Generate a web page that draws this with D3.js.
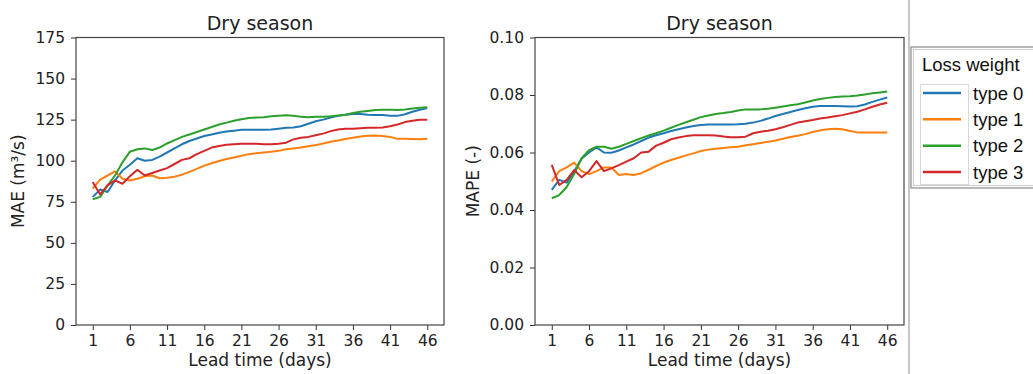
<!DOCTYPE html>
<html>
<head>
<meta charset="utf-8">
<script src="https://cdn.jsdelivr.net/npm/d3@7"></script>
<style>
  html, body { margin: 0; padding: 0; background: #fff; }
  svg { display: block; }
</style>
</head>
<body>
<svg id="chart" width="1033" height="374"></svg>
<script>
// ---------- data ----------
const days = d3.range(1, 47);
const seriesNames = ["type 0", "type 1", "type 2", "type 3"];
const seriesColors = ["#1f77b4", "#ff7f0e", "#2ca02c", "#d62728"];
const xTicks = [1, 6, 11, 16, 21, 26, 31, 36, 41, 46];
const maeTicks = [0, 25, 50, 75, 100, 125, 150, 175];
const mapeTicks = [0, 0.02, 0.04, 0.06, 0.08, 0.10];

const maeType0 = [78, 82.5, 81, 88, 94, 97.5, 101.5, 100, 100.5, 102.5, 105, 107.5, 110, 112, 113.5, 115, 116, 117, 117.8, 118.3, 118.8, 118.8, 118.8, 118.8, 119, 119.5, 120, 120.2, 121, 122.5, 124, 125, 126.3, 127.3, 128, 128.5, 128.5, 128, 127.8, 127.8, 127.3, 127.3, 128.3, 129.8, 131, 132];
const maeType1 = [83, 88.5, 91, 93.5, 89, 88, 89, 90.5, 91, 89.3, 89.7, 90.3, 91.5, 93.2, 95, 97, 98.5, 99.8, 101, 102, 103, 104, 104.5, 105, 105.5, 106, 107, 107.5, 108, 108.8, 109.5, 110.5, 111.5, 112.3, 113.2, 114, 114.8, 115.2, 115.3, 115, 114.5, 113.3, 113.3, 113.2, 113, 113.3];
const maeType2 = [76.5, 78, 85, 91, 99, 105.5, 107, 107.5, 106.5, 108, 110.5, 112.5, 114.5, 116, 117.5, 119, 120.5, 122, 123.2, 124.3, 125.3, 126, 126.3, 126.5, 127, 127.3, 127.7, 127.3, 126.7, 126.5, 126.7, 126.8, 127, 127.5, 128, 129, 129.8, 130.3, 130.8, 131, 131, 130.8, 131.2, 131.8, 132.2, 132.5];
const maeType3 = [87, 79.5, 85, 88, 86, 90.5, 94.5, 91, 92.5, 94, 95.5, 98, 100.5, 101.5, 104, 106, 108, 109, 109.7, 110, 110.3, 110.3, 110.3, 110, 110, 110.3, 111, 113, 114, 114.5, 115.5, 116.5, 118, 119, 119.5, 119.5, 119.8, 120, 120, 120.2, 121, 122, 123.5, 124.3, 125, 125];

const mapeType0 = [0.047, 0.0505, 0.0495, 0.0535, 0.0578, 0.0600, 0.0618, 0.0600, 0.0599, 0.0607, 0.0618, 0.0628, 0.0640, 0.0652, 0.0660, 0.0667, 0.0675, 0.0681, 0.0687, 0.0692, 0.0696, 0.0697, 0.0697, 0.0697, 0.0697, 0.0698, 0.0700, 0.0704, 0.0710, 0.0718, 0.0727, 0.0734, 0.0741, 0.0748, 0.0754, 0.0759, 0.0762, 0.0762, 0.0762, 0.0761, 0.0760, 0.0761, 0.0767, 0.0776, 0.0784, 0.0791];
const mapeType1 = [0.0499, 0.0535, 0.0548, 0.0565, 0.0535, 0.0525, 0.0535, 0.0548, 0.0548, 0.0522, 0.0525, 0.0522, 0.0528, 0.0540, 0.0553, 0.0565, 0.0574, 0.0582, 0.0590, 0.0597, 0.0605, 0.0610, 0.0613, 0.0616, 0.0618, 0.0620, 0.0625, 0.0629, 0.0633, 0.0637, 0.0642, 0.0648, 0.0654, 0.0658, 0.0664, 0.0671, 0.0677, 0.0681, 0.0683, 0.0681, 0.0675, 0.0670, 0.0670, 0.0670, 0.0670, 0.0670];
const mapeType2 = [0.0441, 0.0452, 0.0480, 0.0525, 0.0580, 0.0608, 0.0620, 0.0620, 0.0613, 0.0620, 0.0630, 0.0640, 0.0650, 0.0659, 0.0667, 0.0676, 0.0686, 0.0696, 0.0705, 0.0714, 0.0723, 0.0729, 0.0734, 0.0737, 0.0741, 0.0746, 0.0750, 0.0750, 0.0750, 0.0752, 0.0756, 0.0760, 0.0764, 0.0768, 0.0774, 0.0781, 0.0786, 0.0790, 0.0793, 0.0795, 0.0796, 0.0798, 0.0802, 0.0806, 0.0809, 0.0812];
const mapeType3 = [0.0557, 0.0487, 0.0505, 0.0539, 0.0514, 0.0535, 0.0570, 0.0535, 0.0545, 0.0556, 0.0568, 0.0580, 0.0600, 0.0603, 0.0624, 0.0634, 0.0646, 0.0652, 0.0657, 0.0660, 0.0660, 0.0660, 0.0659, 0.0656, 0.0653, 0.0653, 0.0655, 0.0667, 0.0672, 0.0676, 0.0681, 0.0688, 0.0696, 0.0704, 0.0709, 0.0713, 0.0718, 0.0722, 0.0726, 0.0730, 0.0736, 0.0742, 0.0750, 0.0759, 0.0767, 0.0773];

// ---------- drawing ----------
const svg = d3.select("#chart");
const FONT = "'DejaVu Sans', sans-serif";
const plotTop = 37.5, plotBottom = 325;

function panel(opts) {
  const { left, right, yDomain, yTicks, yFmt, yLabel, yLabelX, series } = opts;
  const x = d3.scaleLinear().domain([1 - 2.25, 46 + 2.25]).range([left, right]);
  const y = d3.scaleLinear().domain(yDomain).range([plotBottom, plotTop]);
  const g = svg.append("g");

  const line = d3.line().x((d, i) => x(days[i])).y(d => y(d));
  series.forEach((s, k) => {
    g.append("path").datum(s)
      .attr("fill", "none")
      .attr("stroke", seriesColors[k])
      .attr("stroke-width", 2)
      .attr("stroke-linejoin", "round")
      .attr("d", line);
  });

  const xa = g.append("g").attr("transform", `translate(0,${plotBottom})`)
    .call(d3.axisBottom(x).tickValues(xTicks).tickSize(5).tickPadding(5));
  const ya = g.append("g").attr("transform", `translate(${left},0)`)
    .call(d3.axisLeft(y).tickValues(yTicks).tickFormat(yFmt).tickSize(5).tickPadding(6));
  [xa, ya].forEach(a => {
    a.select(".domain").remove();
    a.selectAll("line").attr("stroke", "#333");
    a.selectAll("text").attr("font-family", FONT).attr("font-size", 15.5).attr("fill", "#222");
  });

  g.append("rect").attr("x", left).attr("y", plotTop)
    .attr("width", right - left).attr("height", plotBottom - plotTop)
    .attr("fill", "none").attr("stroke", "#444").attr("stroke-width", 1.2);

  g.append("text").attr("x", (left + right) / 2).attr("y", 30)
    .attr("text-anchor", "middle").attr("font-family", FONT)
    .attr("font-size", 19).attr("fill", "#222").text("Dry season");
  g.append("text").attr("x", (left + right) / 2).attr("y", 366)
    .attr("text-anchor", "middle").attr("font-family", FONT)
    .attr("font-size", 17).attr("fill", "#222").text("Lead time (days)");
  g.append("text")
    .attr("transform", `translate(${yLabelX},${(plotTop + plotBottom) / 2}) rotate(-90)`)
    .attr("text-anchor", "middle").attr("dy", "0.35em").attr("font-family", FONT)
    .attr("font-size", 17).attr("fill", "#222").text(yLabel);
}

panel({
  left: 76, right: 444, yDomain: [0, 175], yTicks: maeTicks,
  yFmt: d3.format("d"), yLabel: "MAE (m³/s)", yLabelX: 18,
  series: [maeType0, maeType1, maeType2, maeType3]
});
panel({
  left: 535, right: 904, yDomain: [0, 0.10], yTicks: mapeTicks,
  yFmt: d3.format(".2f"), yLabel: "MAPE (-)", yLabelX: 473,
  series: [mapeType0, mapeType1, mapeType2, mapeType3]
});

svg.append("line").attr("x1", 909).attr("x2", 909).attr("y1", 0).attr("y2", 374)
  .attr("stroke", "#b5b5b5").attr("stroke-width", 1.5);

const LFONT = "'Liberation Sans', Arial, sans-serif";
const lg = svg.append("g");
lg.append("rect").attr("x", 911).attr("y", 47).attr("width", 130).attr("height", 141)
  .attr("fill", "#fff").attr("stroke", "#8a8a8a").attr("stroke-width", 1.2);
lg.append("rect").attr("x", 913.5).attr("y", 49.5).attr("width", 130).attr("height", 136)
  .attr("fill", "none").attr("stroke", "#d0d0d0").attr("stroke-width", 1.2);
lg.append("text").attr("x", 922).attr("y", 71).attr("font-family", LFONT)
  .attr("font-size", 18.5).attr("fill", "#111").text("Loss weight");
lg.append("rect").attr("x", 920.5).attr("y", 84.5).attr("width", 48).attr("height", 100)
  .attr("fill", "none").attr("stroke", "#d8d8d8").attr("stroke-width", 1);
const ly = d3.scalePoint().domain(seriesNames).range([93, 172]);
seriesNames.forEach((n, k) => {
  lg.append("line").attr("x1", 923).attr("x2", 961).attr("y1", ly(n)).attr("y2", ly(n))
    .attr("stroke", seriesColors[k]).attr("stroke-width", 2.5);
  lg.append("text").attr("x", 973).attr("y", ly(n) + 6.5).attr("font-family", LFONT)
    .attr("font-size", 18.5).attr("fill", "#111").text(n);
});
</script>
</body>
</html>
